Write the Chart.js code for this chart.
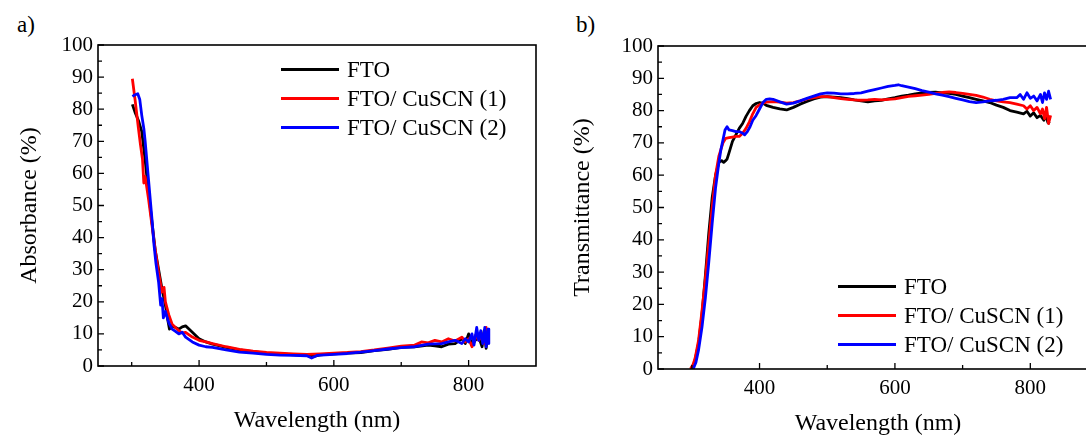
<!DOCTYPE html>
<html>
<head>
<meta charset="utf-8">
<script src="https://cdn.jsdelivr.net/npm/chart.js@4"></script>
<style>
  html, body { margin: 0; padding: 0; background: #fff; overflow: hidden; }
  body { width: 1086px; height: 436px; position: relative; font-family: "Liberation Serif", "Times New Roman", serif; color: #000; }
  .panel { position: absolute; top: 0; }
  .tag { position: absolute; font-size: 23px; line-height: 1; }
  .legend { position: absolute; font-size: 23px; }
  .legend div { position: relative; height: 29px; line-height: 29px; white-space: nowrap; }
  .legend span.ln { position: absolute; left: 0; top: 13px; height: 3px; }
  .legend span.tx { position: absolute; }
</style>
</head>
<body>
<div class="tag" style="left:17px;top:13px">a)</div>
<div class="tag" style="left:576px;top:13px">b)</div>

<div class="panel" style="left:0;width:545px;height:436px"><canvas id="abs-chart" width="545" height="436"></canvas></div>
<div class="panel" style="left:545px;width:560px;height:436px"><canvas id="trans-chart" width="560" height="436"></canvas></div>

<div class="legend" style="left:281px;top:55px" id="legend-a"></div>
<div class="legend" style="left:838px;top:272px" id="legend-b"></div>

<script>
// series names and colours
const seriesNames = ['FTO', 'FTO/ CuSCN (1)', 'FTO/ CuSCN (2)'];
const seriesColors = ['#000000', '#ff0000', '#0000ff'];

// axis ticks
const xMajorTicks = [400, 600, 800];
const xMinorTicks = [300, 500, 700];
const yMajorTicks = [0, 10, 20, 30, 40, 50, 60, 70, 80, 90, 100];
const yMinorTicks = [5, 15, 25, 35, 45, 55, 65, 75, 85, 95];

// a) absorbance
const absWlFTO = [301,305,310,315,320,325,330,335,340,345,350,353,356,360,365,370,375,380,385,390,395,400,410,420,440,460,480,500,520,540,560,570,580,600,620,640,660,680,700,720,740,750,760,770,780,790,795,800,805,810,815,820,823,826,829];
const absFTO   = [81.5,79,76.5,73,64,54,45,36,30,24,19,15,11.5,12.5,12,11.5,12.2,12.5,11.5,10.5,9.5,8.5,7.5,6.8,5.8,5,4.5,4,3.8,3.5,3.2,3,3.5,3.8,4,4.2,4.8,5.2,5.8,6,6.5,6.3,6,6.8,7,8.5,7,10,6.5,8,9,6,11,5.5,10.5];

const absWlCu1 = [301,305,310,313,316,318,320,325,330,335,340,345,348,350,355,360,365,370,375,380,390,400,410,420,440,460,480,500,520,540,560,580,600,620,640,660,680,700,720,730,740,750,760,770,780,790,795,800,805,810,815,820,823,826,829];
const absCu1   = [89.5,83,74,69,64.5,57,59,52,44,36,29,23,24.5,20,16,13,12,11,10.3,10.5,9,8,7.5,7,6,5.2,4.6,4.2,4,3.8,3.6,3.8,4,4.2,4.5,5,5.6,6.2,6.5,7.5,7.2,8,7.5,8.5,7.8,9,7.5,8.5,6,9.5,8,10,7,12,8];

const absWlCu2 = [301,305,309,312,315,318,320,325,330,333,336,340,343,345,347,350,355,360,365,370,375,380,390,400,410,420,440,460,480,500,520,540,560,567,575,600,620,640,660,680,700,720,740,760,770,780,790,795,800,805,808,812,815,818,821,824,826,829,830];
const absCu2   = [84,84.5,84.8,83,78,74,70,58,46,38,32,26,19,21,15,17,13.5,11.5,10.8,10,10.5,9,7.5,6.5,6,5.8,5,4.3,4,3.6,3.4,3.3,3.2,2.5,3.3,3.6,3.9,4.3,4.8,5.3,5.7,6,6.8,7,7.5,8,7,8.5,7.5,10,6.5,12,8,11,7,12,6,11.5,7];

// b) transmittance
const trWlFTO = [301,305,310,315,320,325,330,335,340,344,347,350,352,355,360,365,370,375,380,385,390,395,400,405,410,420,430,440,450,460,470,480,490,500,510,520,530,540,550,560,570,580,590,600,610,620,630,640,650,660,670,680,690,700,710,720,730,740,750,760,770,780,790,795,800,805,810,815,820,823,826,829];
const trFTO   = [0,3,8,17,29,42,53,60,64,64.5,64,64.5,65,67,70.5,72.5,74.5,76,78.2,80,81.5,82.2,82.5,82.3,81.6,81,80.5,80.2,81,82,82.8,83.6,84.2,84.3,84.2,84,83.7,83.3,83,82.7,83,83.2,83.6,84,84.5,84.8,85.2,85.5,85.6,85.7,85.5,85.3,85,84.5,84,83.5,83,82.5,81.7,81,80,79.5,79,79.8,78.3,79.3,77.8,78.5,77,78.5,76.3,76];

const trWlCu1 = [298,302,305,310,315,320,325,330,335,340,343,346,350,355,360,365,370,375,380,385,390,395,400,405,410,420,430,440,450,460,470,480,490,500,510,520,530,540,550,560,570,580,590,600,610,620,630,640,650,660,670,680,690,700,710,720,730,740,750,760,770,780,790,795,800,805,810,815,818,821,824,827,830];
const trCu1   = [0,1.5,3.5,9,18,28,39,50,60,66,68,70,71.4,71.6,71.8,72,72,73,74.5,76.5,79,81,81.8,82.3,82.6,82.8,82.6,82.3,82.5,83,83.6,84,84.3,84.3,84,83.7,83.5,83.3,83.2,83.3,83.5,83.3,83.5,83.6,84,84.4,84.6,84.8,85,85.3,85.6,85.8,85.6,85.3,85,84.7,84.2,83.5,83,82.7,82.5,82,81.5,80.5,81.5,80,81,79,80.5,77.5,81,76,78.5];

const trWlCu2 = [302,306,310,315,320,325,330,335,340,343,346,349,352,355,360,365,370,375,378,382,386,390,395,400,405,410,415,420,430,440,450,460,470,480,490,500,510,520,530,540,550,560,570,580,590,600,605,610,620,630,640,650,660,670,680,690,700,710,720,730,740,750,760,770,780,785,790,795,800,805,810,815,818,821,824,827,830];
const trCu2   = [0,2,6,13,22,33,45,56,64,68,71,74,75,74,73.8,73.5,73.5,73,72.5,73.5,75,77,78.5,80.5,82.5,83.5,83.6,83.5,82.7,82,82.3,83,83.8,84.5,85.2,85.5,85.4,85.2,85.2,85.3,85.5,86,86.5,87,87.5,87.8,88,87.7,87.3,86.8,86.2,85.7,85.2,84.8,84.3,83.8,83.3,82.8,82.5,82.7,83,83.2,83.5,84,84,85,83.5,85.5,83.8,84.5,83,85,82.5,85.5,83.5,86,83.5];

const FONT = '"Liberation Serif", "Times New Roman", serif';

function toPoints(xs, ys) {
  return xs.map((x, i) => ({ x: x, y: ys[i] }));
}

// frame box + inward ticks like the original plot
const frameTicks = {
  id: 'frameTicks',
  afterDraw(chart) {
    const { ctx, chartArea: a } = chart;
    const x = chart.scales.x, y = chart.scales.y;
    ctx.save();
    ctx.strokeStyle = '#000';
    ctx.lineWidth = 1.6;
    ctx.strokeRect(a.left, a.top, a.right - a.left, a.bottom - a.top);
    ctx.lineWidth = 1.3;
    ctx.beginPath();
    yMajorTicks.forEach(v => { const p = y.getPixelForValue(v); ctx.moveTo(a.left, p); ctx.lineTo(a.left + 6, p); });
    yMinorTicks.forEach(v => { const p = y.getPixelForValue(v); ctx.moveTo(a.left, p); ctx.lineTo(a.left + 4, p); });
    xMajorTicks.forEach(v => { const p = x.getPixelForValue(v); ctx.moveTo(p, a.bottom); ctx.lineTo(p, a.bottom - 6); });
    xMinorTicks.forEach(v => { const p = x.getPixelForValue(v); ctx.moveTo(p, a.bottom); ctx.lineTo(p, a.bottom - 4); });
    ctx.stroke();
    ctx.restore();
  }
};

function makeChart(id, sets, yTitle, opt) {
  const ctx = document.getElementById(id);
  return new Chart(ctx, {
    type: 'line',
    data: {
      datasets: sets.map((s, i) => ({
        label: seriesNames[i],
        data: toPoints(s[0], s[1]),
        borderColor: seriesColors[i],
        borderWidth: 2.8,
        borderJoinStyle: 'round',
        pointRadius: 0,
        tension: 0,
        fill: false,
        order: 2 - i
      }))
    },
    options: {
      responsive: false,
      animation: false,
      devicePixelRatio: 1,
      layout: { padding: { top: opt.top, right: opt.right, left: 0, bottom: 0 } },
      plugins: { legend: { display: false }, tooltip: { enabled: false } },
      scales: {
        x: {
          type: 'linear', min: 250, max: 900,
          afterBuildTicks: sc => { sc.ticks = xMajorTicks.map(v => ({ value: v })); },
          afterFit: sc => { sc.height = opt.xH; },
          grid: { display: false, drawTicks: false },
          border: { display: false },
          ticks: { color: '#000', font: { family: FONT, size: 21 }, padding: 7, maxRotation: 0 },
          title: { display: true, text: 'Wavelength (nm)', color: '#000', font: { family: FONT, size: 24, lineHeight: 1 }, padding: { top: 0, bottom: opt.xTitlePad } }
        },
        y: {
          type: 'linear', min: 0, max: 100,
          afterBuildTicks: sc => { sc.ticks = yMajorTicks.map(v => ({ value: v })); },
          afterFit: sc => { sc.width = opt.yW; },
          grid: { display: false, drawTicks: false },
          border: { display: false },
          ticks: { color: '#000', font: { family: FONT, size: 21 }, padding: 5 },
          title: { display: true, text: yTitle, color: '#000', font: { family: FONT, size: 24, lineHeight: 1 }, padding: { top: opt.yTitlePad, bottom: 0 } }
        }
      }
    },
    plugins: [frameTicks]
  });
}

function buildLegend(id) {
  const box = document.getElementById(id);
  box.innerHTML = seriesNames.map((n, i) =>
    `<div><span class="ln" style="width:58px;background:${seriesColors[i]}"></span><span class="tx" style="left:66px">${n}</span></div>`
  ).join('');
}

makeChart('abs-chart', [[absWlFTO, absFTO], [absWlCu1, absCu1], [absWlCu2, absCu2]], 'Absorbance (%)',
  { top: 45, right: 9, xH: 70, yW: 98, xTitlePad: 3, yTitlePad: 18 });
makeChart('trans-chart', [[trWlFTO, trFTO], [trWlCu1, trCu1], [trWlCu2, trCu2]], 'Transmittance (%)',
  { top: 46, right: 7, xH: 67, yW: 113, xTitlePad: 0, yTitlePad: 26 });

buildLegend('legend-a');
buildLegend('legend-b');
</script>
</body>
</html>
